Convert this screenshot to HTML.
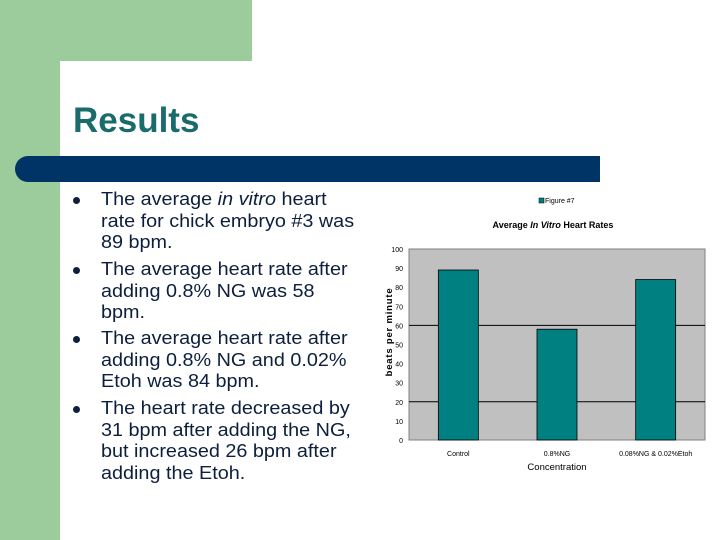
<!DOCTYPE html>
<html><head><meta charset="utf-8"><style>
body{margin:0;width:720px;height:540px;overflow:hidden;background:#fff;font-family:"Liberation Sans",sans-serif;position:relative}
.abs{position:absolute}
.li{position:absolute;left:101px;font-size:18px;line-height:21.7px;color:#0d1f3c;white-space:nowrap;transform:scaleX(1.1);transform-origin:0 0}
.dot{position:absolute;left:73px;width:7px;height:7px;border-radius:50%;background:#0d1f3c}
svg text{font-family:"Liberation Sans",sans-serif}
</style></head><body>
<div class="abs" style="left:0;top:0;width:252px;height:61px;background:#9ccc9c"></div>
<div class="abs" style="left:0;top:0;width:60px;height:540px;background:#9ccc9c"></div>
<div class="abs" style="left:60px;top:61px;width:660px;height:479px;background:#fff;border-top-left-radius:22px"></div>
<div class="abs" style="left:73px;top:101px;font-size:35px;font-weight:bold;color:#1a6b6b;line-height:40px">Results</div>
<div class="abs" style="left:15px;top:156px;width:585px;height:26px;background:#003366;border-radius:13px 0 0 13px"></div>

<div>
<div class="dot" style="top:197px"></div>
<div class="li" style="top:189px">The average <i>in vitro</i> heart<br>rate for chick embryo #3 was<br>89 bpm.</div>
<div class="dot" style="top:267px"></div>
<div class="li" style="top:259px">The average heart rate after<br>adding 0.8% NG was 58<br>bpm.</div>
<div class="dot" style="top:336px"></div>
<div class="li" style="top:328px">The average heart rate after<br>adding 0.8% NG and 0.02%<br>Etoh was 84 bpm.</div>
<div class="dot" style="top:406px"></div>
<div class="li" style="top:398px">The heart rate decreased by<br>31 bpm after adding the NG,<br>but increased 26 bpm after<br>adding the Etoh.</div>
</div>

<svg class="abs" style="left:0;top:0" width="720" height="540">
<g id="chart"></g>
</svg>
<script>
const categories=["Control","0.8%NG","0.08%NG & 0.02%Etoh"];
const values=[89,58,84];
const yTicks=[0,10,20,30,40,50,60,70,80,90,100];
const gridValues=[20,60];
const NS="http://www.w3.org/2000/svg";
const g=document.getElementById("chart");
const L=409,R=705,T=249,B=440,ymax=100;
const y=v=>B-(v/ymax)*(B-T);
const band=(R-L)/categories.length;
const xc=i=>L+band*(i+0.5);
function mk(tag,attrs,txt){const e=document.createElementNS(NS,tag);for(const k in attrs)e.setAttribute(k,attrs[k]);if(txt!==undefined)e.textContent=txt;g.appendChild(e);return e;}
const pa=mk("rect",{x:L,y:T,width:R-L,height:B-T,fill:"#c0c0c0",stroke:"#808080","stroke-width":1});


gridValues.forEach(v=>{const l=mk("line",{x1:L,x2:R,y1:y(v),y2:y(v),stroke:"#000","stroke-width":1});

});
yTicks.forEach(v=>{const t=mk("text",{x:403,y:y(v)+3,"font-size":7,"text-anchor":"end",fill:"#000"},String(v));

});
values.forEach((v,i)=>{const w=40;const b=mk("rect",{x:xc(i)-w/2,y:y(v),width:w,height:B-y(v),fill:"#008080",stroke:"#000","stroke-width":0.8});


const t=mk("text",{x:xc(i),y:456,"font-size":7,"text-anchor":"middle",fill:"#000"},categories[i]);

});
const xt=mk("text",{x:557,y:470,"font-size":9.5,"text-anchor":"middle",fill:"#000"},"Concentration");


const yt=mk("text",{x:0,y:0,"font-size":9.5,"font-weight":"bold","text-anchor":"middle",fill:"#000","letter-spacing":"0.8",transform:"translate(392,332) rotate(-90)"},"beats per minute");


const ti=mk("text",{x:553,y:228,"font-size":9,"font-weight":"bold","text-anchor":"middle",fill:"#000"});
ti.innerHTML='Average <tspan font-style="italic">In Vitro</tspan> Heart Rates';


const lg=mk("rect",{x:539,y:198,width:5,height:5,fill:"#008080",stroke:"#000","stroke-width":0.5});


const lt=mk("text",{x:545,y:203,"font-size":7,fill:"#000"},"Figure #7");


</script>
</body></html>
